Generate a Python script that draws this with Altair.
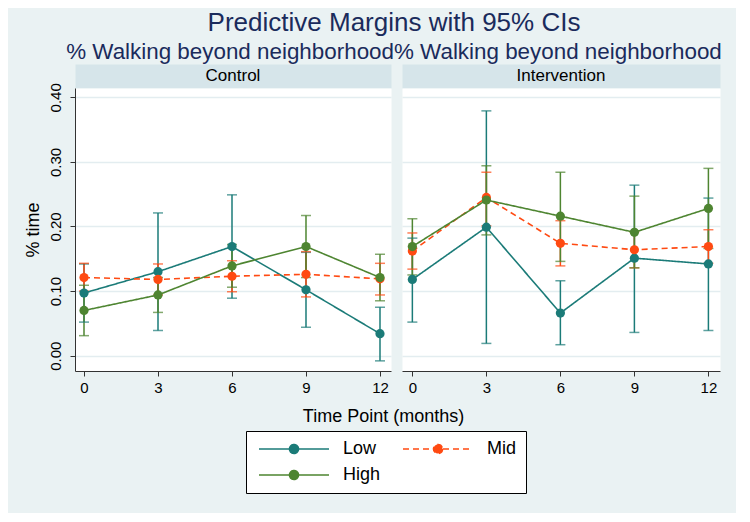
import altair as alt
import pandas as pd

times = [0, 3, 6, 9, 12]
groups = ["Low", "Mid", "High"]
panels = ["Control", "Intervention"]

# Control panel
low_c = [0.097, 0.130, 0.169, 0.102, 0.034]
low_c_lo = [0.052, 0.039, 0.089, 0.044, -0.008]
low_c_hi = [0.142, 0.221, 0.249, 0.160, 0.075]
mid_c = [0.121, 0.118, 0.123, 0.126, 0.119]
mid_c_lo = [0.100, 0.094, 0.099, 0.091, 0.094]
mid_c_hi = [0.143, 0.142, 0.147, 0.161, 0.143]
high_c = [0.070, 0.094, 0.139, 0.169, 0.121]
high_c_lo = [0.031, 0.067, 0.106, 0.121, 0.085]
high_c_hi = [0.109, 0.121, 0.172, 0.217, 0.157]

# Intervention panel
low_i = [0.118, 0.199, 0.066, 0.151, 0.142]
low_i_lo = [0.052, 0.019, 0.017, 0.036, 0.039]
low_i_hi = [0.182, 0.379, 0.116, 0.264, 0.244]
mid_i = [0.162, 0.245, 0.174, 0.164, 0.169]
mid_i_lo = [0.134, 0.201, 0.139, 0.136, 0.143]
mid_i_hi = [0.190, 0.284, 0.209, 0.192, 0.195]
high_i = [0.169, 0.241, 0.216, 0.191, 0.228]
high_i_lo = [0.125, 0.187, 0.146, 0.136, 0.166]
high_i_hi = [0.212, 0.294, 0.284, 0.247, 0.290]

series = {
    ("Control", "Low"): (low_c, low_c_lo, low_c_hi),
    ("Control", "Mid"): (mid_c, mid_c_lo, mid_c_hi),
    ("Control", "High"): (high_c, high_c_lo, high_c_hi),
    ("Intervention", "Low"): (low_i, low_i_lo, low_i_hi),
    ("Intervention", "Mid"): (mid_i, mid_i_lo, mid_i_hi),
    ("Intervention", "High"): (high_i, high_i_lo, high_i_hi),
}
rows = []
for (p, g), (m, lo, hi) in series.items():
    for t, mv, lv, hv in zip(times, m, lo, hi):
        rows.append({"panel": p, "group": g, "time": t, "margin": mv, "lo": lv, "hi": hv})
df = pd.DataFrame(rows)

FONT = "Liberation Sans"
BG = "#EAF2F3"
STRIP = "#D6E5EA"
GRID = "#E3EDF0"
colors = ["#1B7B78", "#FF4A12", "#4E8531"]
color_scale = alt.Scale(domain=groups, range=colors)
dash_scale = alt.Scale(domain=groups, range=[[1, 0], [6, 4], [1, 0]])

# legend glyph: a line with a dot in its middle (units of 5 px)
legend_symbol = ("M-1,0L13,0M6.9,0A0.9,0.9 0 1 1 5.1,0"
                 "A0.9,0.9 0 1 1 6.9,0Z")

ydom = [-0.0237, 0.4144]
yticks = [0.0, 0.1, 0.2, 0.3, 0.4]


def make_plot(name, width, xdom, first):
    d = df[df["panel"] == name]
    base = alt.Chart(d)
    if first:
        xaxis = alt.Axis(values=times, title="Time Point (months)", grid=False,
                         labelFontSize=15, titleFontSize=18, titleFontWeight="normal",
                         titleX=308, titleY=50, titleBaseline="alphabetic",
                         titleAnchor="start", titleAlign="center",
                         tickSize=5, labelPadding=4, domainColor="#333333",
                         tickColor="#333333", labelColor="black", titleColor="black")
        yaxis = alt.Axis(values=yticks, format=".2f", title="% time", labelAngle=270,
                         labelAlign="center", labelBaseline="bottom", labelFontSize=15,
                         titleFontSize=18, titleFontWeight="normal", titlePadding=6,
                         tickSize=5, labelPadding=7, grid=True, gridColor=GRID,
                         gridWidth=1.5, domainColor="#333333", tickColor="#333333",
                         labelColor="black", titleColor="black")
    else:
        xaxis = alt.Axis(values=times, title=None, grid=False, labelFontSize=15,
                         tickSize=5, labelPadding=4, domainColor="#333333",
                         tickColor="#333333", labelColor="black")
        yaxis = alt.Axis(values=yticks, title=None, labels=False, ticks=False,
                         domain=False, grid=True, gridColor=GRID, gridWidth=1.5)
    x = alt.X("time:Q", scale=alt.Scale(domain=xdom, nice=False, zero=False), axis=xaxis)
    y_sc = alt.Scale(domain=ydom, nice=False, zero=False)
    col = alt.Color("group:N", scale=color_scale, sort=groups,
                    legend=alt.Legend(title=None))
    rules = base.mark_rule(strokeWidth=1.5).encode(
        x=x, y=alt.Y("lo:Q", scale=y_sc, axis=yaxis), y2="hi:Q", color=col)
    cap_lo = base.mark_tick(orient="horizontal", size=10, thickness=1.5).encode(
        x=x, y=alt.Y("lo:Q", scale=y_sc), color=col)
    cap_hi = base.mark_tick(orient="horizontal", size=10, thickness=1.5).encode(
        x=x, y=alt.Y("hi:Q", scale=y_sc), color=col)
    line = base.mark_line(strokeWidth=1.6).encode(
        x=x, y=alt.Y("margin:Q", scale=y_sc), color=col,
        strokeDash=alt.StrokeDash("group:N", scale=dash_scale, sort=groups,
                                  legend=alt.Legend(title=None)))
    pts = base.mark_circle(size=85, opacity=1).encode(
        x=x, y=alt.Y("margin:Q", scale=y_sc), color=col)
    return alt.layer(rules, cap_lo, cap_hi, line, pts).properties(
        width=width, height=283,
        view=alt.ViewBackground(fill="white", stroke="transparent"))


def make_strip(name, width):
    return alt.Chart(pd.DataFrame({"label": [name]})).mark_text(
        font=FONT, fontSize=17, color="black", baseline="middle").encode(
        text="label:N", x=alt.value(width / 2), y=alt.value(12)).properties(
        width=width, height=24,
        view=alt.ViewBackground(fill=STRIP, stroke="transparent"))


chart = alt.concat(
    make_strip("Control", 316), make_strip("Intervention", 318),
    make_plot("Control", 316, [-0.365, 12.446], True),
    make_plot("Intervention", 318, [-0.42, 12.47], False),
    columns=2, spacing=alt.RowColnumber(row=0, column=11), bounds="flush",
).properties(
    title=alt.TitleParams(
        text="Predictive Margins with 95% CIs",
        subtitle="% Walking beyond neighborhood% Walking beyond neighborhood",
        fontSize=26, subtitleFontSize=22.4, font=FONT, subtitleFont=FONT,
        fontWeight="normal", color="#1A2B5C", subtitleColor="#1A2B5C",
        anchor="middle", subtitlePadding=5, offset=0, dx=22),
    background=BG,
    padding={"left": 15, "top": 2, "right": 14, "bottom": 19},
).resolve_scale(color="shared", strokeDash="shared").configure(
    font=FONT
).configure_legend(
    orient="none", legendX=171, legendY=367, direction="horizontal", columns=2,
    strokeColor="black", fillColor="white", padding=9, labelFontSize=18,
    labelColor="black", symbolType=legend_symbol, symbolSize=100,
    symbolStrokeWidth=1.6, labelOffset=70, columnPadding=18, rowPadding=8,
    symbolOpacity=1
).configure_view(stroke="transparent")

chart.save("out.html", embed_options={"renderer": "svg", "actions": False})
